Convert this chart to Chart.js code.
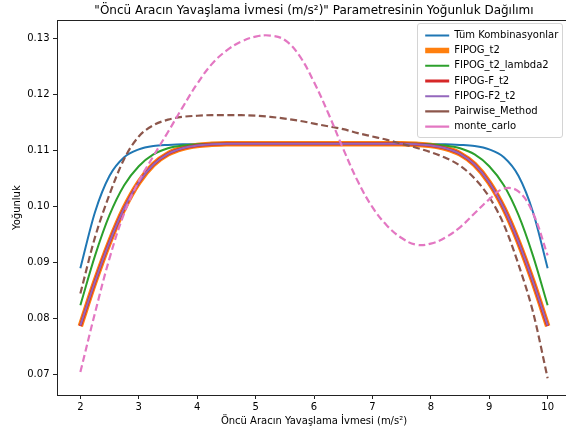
<!DOCTYPE html>
<html><head><meta charset="utf-8">
<script src="https://cdn.jsdelivr.net/npm/chart.js@4.4.1/dist/chart.umd.min.js"></script>
<style>
html,body{margin:0;padding:0;overflow:hidden;background:#fff;width:566px;height:434px}
#wrap{position:relative;width:576px;height:434px}
</style></head>
<body><div id="wrap"><canvas id="c" width="576" height="434"></canvas></div>
<script>
const chartTitle = '"Öncü Aracın Yavaşlama İvmesi (m/s²)" Parametresinin Yoğunluk Dağılımı';
const xTitle = 'Öncü Aracın Yavaşlama İvmesi (m/s²)';
const yTitle = 'Yoğunluk';
const xTicks = [2, 3, 4, 5, 6, 7, 8, 9, 10];
const yTicks = [0.07, 0.08, 0.09, 0.10, 0.11, 0.12, 0.13];
const seriesNames = ['Tüm Kombinasyonlar', 'FIPOG_t2', 'FIPOG_t2_lambda2', 'FIPOG-F_t2', 'FIPOG-F2_t2', 'Pairwise_Method', 'monte_carlo'];

const xs = [2,2.25,2.5,2.75,3,3.25,3.5,3.75,4,4.25,4.5,4.75,5,5.25,5.5,5.75,6,6.25,6.5,6.75,7,7.25,7.5,7.75,8,8.25,8.5,8.75,9,9.25,9.5,9.75,10];

const tumKombinasyonlar = [0.0890,0.0990,0.1055,0.1088,0.1102,0.1108,0.1110,0.1111,0.1111,0.1111,0.1111,0.1111,0.1111,0.1111,0.1111,0.1111,0.1111,0.1111,0.1111,0.1111,0.1111,0.1111,0.1111,0.1111,0.1111,0.1111,0.1110,0.1108,0.1102,0.1088,0.1055,0.0990,0.0890];
const fipogT2 = [0.0787,0.0866,0.0937,0.0997,0.1043,0.1075,0.1094,0.1104,0.1109,0.1111,0.1112,0.1112,0.1112,0.1112,0.1112,0.1112,0.1112,0.1112,0.1112,0.1112,0.1112,0.1112,0.1112,0.1111,0.1109,0.1104,0.1094,0.1075,0.1043,0.0997,0.0937,0.0866,0.0787];
const fipogT2Lambda2 = [0.0824,0.0912,0.0985,0.1038,0.1072,0.1093,0.1104,0.1109,0.1111,0.1112,0.1112,0.1112,0.1112,0.1112,0.1112,0.1112,0.1112,0.1112,0.1112,0.1112,0.1112,0.1112,0.1112,0.1112,0.1111,0.1109,0.1104,0.1093,0.1072,0.1038,0.0985,0.0912,0.0824];
const fipogFT2 = [0.0787,0.0866,0.0937,0.0997,0.1043,0.1075,0.1094,0.1104,0.1109,0.1111,0.1112,0.1112,0.1112,0.1112,0.1112,0.1112,0.1112,0.1112,0.1112,0.1112,0.1112,0.1112,0.1112,0.1111,0.1109,0.1104,0.1094,0.1075,0.1043,0.0997,0.0937,0.0866,0.0787];
const fipogF2T2 = [0.0788,0.0866,0.0937,0.0997,0.1043,0.1075,0.1094,0.1104,0.1109,0.1111,0.1112,0.1112,0.1112,0.1112,0.1112,0.1112,0.1112,0.1112,0.1112,0.1112,0.1112,0.1112,0.1112,0.1111,0.1109,0.1104,0.1094,0.1075,0.1043,0.0997,0.0937,0.0866,0.0788];
const pairwiseMethod = [0.0845,0.0945,0.1022,0.1085,0.1125,0.1145,0.1155,0.1160,0.1162,0.1163,0.1163,0.1163,0.1162,0.1160,0.1157,0.1153,0.1148,0.1143,0.1138,0.1131,0.1125,0.1119,0.1112,0.1105,0.1097,0.1087,0.1073,0.1050,0.1017,0.0968,0.0897,0.0812,0.0694];
const monteCarlo = [0.0705,0.0810,0.0908,0.0988,0.1045,0.1090,0.1133,0.1177,0.1219,0.1254,0.1278,0.1294,0.1303,0.1305,0.1297,0.1269,0.1222,0.1165,0.1103,0.1045,0.0999,0.0966,0.0944,0.0932,0.0934,0.0945,0.0963,0.0988,0.1013,0.1032,0.1027,0.0988,0.0913];

const seriesValues = [tumKombinasyonlar, fipogT2, fipogT2Lambda2, fipogFT2, fipogF2T2, pairwiseMethod, monteCarlo];
const seriesColors = ['#1f77b4', '#ff7f0e', '#2ca02c', '#d62728', '#9467bd', '#8c564b', '#e377c2'];
const seriesWidths = [2, 5.5, 2, 3, 2, 2.2, 2.2];
const seriesDash = [[], [], [], [], [], [7, 3.5], [7, 3.5]];
const seriesCurve = ['monotone', 'monotone', 'monotone', 'monotone', 'monotone', 'monotone', 'default'];

Chart.defaults.font.family = '"DejaVu Sans", sans-serif';
Chart.defaults.color = '#000';

const datasets = seriesNames.map((name, i) => ({
  label: name,
  data: xs.map((x, j) => ({ x: x, y: seriesValues[i][j] })),
  borderColor: seriesColors[i],
  backgroundColor: seriesColors[i],
  borderWidth: seriesWidths[i],
  borderDash: seriesDash[i],
  pointRadius: 0,
  fill: false,
  tension: 0.4,
  cubicInterpolationMode: seriesCurve[i],
  order: seriesNames.length - i
}));

const framePlugin = {
  id: 'framePlugin',
  beforeDraw(chart) {
    const ca = chart.chartArea;
    const lg = chart.legend;
    if (lg) { lg.left = ca.right - 151; lg.top = ca.top + 4.8; }
    const ctx = chart.ctx;
    ctx.save();
    ctx.beginPath();
    ctx.roundRect(ca.right - 153.5, Math.round(ca.top) + 3.5, 145, 114, 2.5);
    ctx.fillStyle = 'rgba(255,255,255,0.8)';
    ctx.fill();
    ctx.strokeStyle = '#d4d4d4';
    ctx.lineWidth = 1;
    ctx.stroke();
    ctx.restore();
  },
  afterDraw(chart) {
    const ca = chart.chartArea;
    const ctx = chart.ctx;
    ctx.save();
    ctx.strokeStyle = '#222';
    ctx.lineWidth = 1;
    ctx.beginPath();
    const t = Math.round(ca.top) + 0.5;
    ctx.moveTo(Math.round(ca.left), t);
    ctx.lineTo(ca.right + 1, t);
    ctx.stroke();
    ctx.restore();
  }
};

new Chart(document.getElementById('c'), {
  type: 'line',
  data: { datasets },
  plugins: [framePlugin],
  options: {
    responsive: false,
    animation: false,
    devicePixelRatio: 1,
    layout: { padding: { left: 0, right: 5, top: 0, bottom: 0 } },
    plugins: {
      tooltip: { enabled: false },
      title: {
        display: true, text: chartTitle, color: '#000', fullSize: false,
        font: { size: 12, weight: 'normal' }, padding: { top: 4, bottom: 2 }
      },
      legend: {
        display: true, position: 'chartArea', align: 'start',
        labels: {
          usePointStyle: true, pointStyle: 'line', pointStyleWidth: 24,
          boxHeight: 10, padding: 5.2, color: '#000', font: { size: 10 },
          sort: (a, b) => a.datasetIndex - b.datasetIndex
        }
      }
    },
    scales: {
      x: {
        type: 'linear', min: 1.6, max: 10.4,
        afterBuildTicks: s => { s.ticks = xTicks.map(v => ({ value: v })); },
        afterFit: s => { s.height = 39; },
        grid: { display: true, drawOnChartArea: false, drawTicks: true, tickLength: 4, color: '#222' },
        border: { display: true, color: '#222', width: 1 },
        ticks: { color: '#000', font: { size: 10 }, padding: 2, maxRotation: 0, autoSkip: false, callback: v => String(v) },
        title: { display: true, text: xTitle, color: '#000', font: { size: 10 }, padding: { top: 0, bottom: 7 } }
      },
      y: {
        type: 'linear', min: 0.0664, max: 0.1332,
        afterBuildTicks: s => { s.ticks = yTicks.map(v => ({ value: v })); },
        afterFit: s => { s.width = 57; },
        grid: { display: true, drawOnChartArea: false, drawTicks: true, tickLength: 4, color: '#222' },
        border: { display: true, color: '#222', width: 1 },
        ticks: { color: '#000', font: { size: 10 }, padding: 3.5, autoSkip: false, callback: v => v.toFixed(2) },
        title: { display: true, text: yTitle, color: '#000', font: { size: 10 }, padding: { top: 11, bottom: 0 } }
      }
    }
  }
});
</script></body></html>
